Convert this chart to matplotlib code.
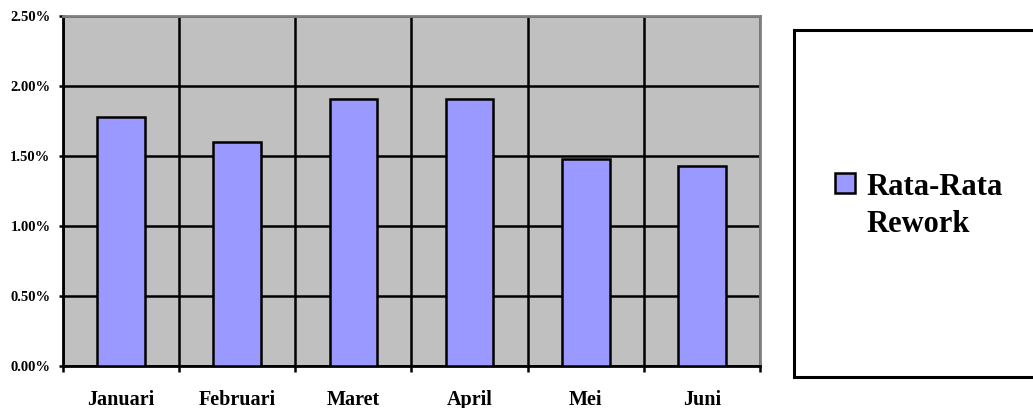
import numpy as np
import matplotlib.pyplot as plt
from matplotlib.patches import Rectangle
from matplotlib.ticker import FuncFormatter, FixedLocator

# data
months = ['Januari', 'Februari', 'Maret', 'April', 'Mei', 'Juni']
rework = [1.78, 1.60, 1.91, 1.91, 1.48, 1.43]  # rata-rata rework (%)
series_lines = ['Rata-Rata', 'Rework']

plt.rcParams['font.family'] = ['Liberation Serif', 'DejaVu Serif']
plt.rcParams['font.weight'] = 'bold'

W, H = 1033, 408
fig = plt.figure(figsize=(W / 100, H / 100), dpi=100)
ax = fig.add_axes([63 / W, 1 - 366 / H, (760 - 63) / W, (366 - 16) / H])
ax.set_facecolor('#C0C0C0')

x = np.arange(len(months))
bars = ax.bar(x, rework, width=0.41, color='#9999FF', edgecolor='black',
              linewidth=1.8, zorder=3)

ax.set_xlim(-0.5, len(months) - 0.5)
ax.set_ylim(0, 2.5)

# y axis: percent ticks with horizontal grid
ax.set_yticks(np.arange(0, 2.51, 0.5))
ax.yaxis.set_major_formatter(FuncFormatter(lambda v, p: f'{v:.2f}%'))
ax.tick_params(axis='y', direction='out', length=3, width=1.8, pad=6,
               labelsize=10.5)

# x axis: labels at centres, ticks/grid at category boundaries
ax.set_xticks(x)
ax.set_xticklabels(months)
ax.xaxis.set_minor_locator(FixedLocator(np.arange(-0.5, len(months), 1.0)))
ax.tick_params(axis='x', which='major', length=0, pad=17, labelsize=14.5)
ax.tick_params(axis='x', which='minor', direction='out', length=4.5, width=1.8)

ax.yaxis.grid(True, color='black', linewidth=1.8, zorder=1)
ax.xaxis.grid(True, which='minor', color='black', linewidth=1.8, zorder=1)
ax.set_axisbelow(True)

for side in ['left', 'bottom']:
    ax.spines[side].set_linewidth(2)
    ax.spines[side].set_color('black')
for side in ['top', 'right']:
    ax.spines[side].set_linewidth(2)
    ax.spines[side].set_color('#808080')

# legend panel on the right
fig.patches.append(Rectangle((794 / W, 1 - 377 / H), 0.25, (377 - 30) / H,
                             transform=fig.transFigure, facecolor='white',
                             edgecolor='black', linewidth=2.2))
fig.patches.append(Rectangle((835 / W, 1 - 193 / H), 20 / W, 20 / H,
                             transform=fig.transFigure,
                             facecolor=bars[0].get_facecolor(),
                             edgecolor='black', linewidth=1.8))
for line, base in zip(series_lines, [195, 232]):
    fig.text(866 / W, 1 - base / H, line, fontsize=22, fontweight='bold',
             ha='left', va='baseline')

fig.savefig('out.png', dpi=100)
